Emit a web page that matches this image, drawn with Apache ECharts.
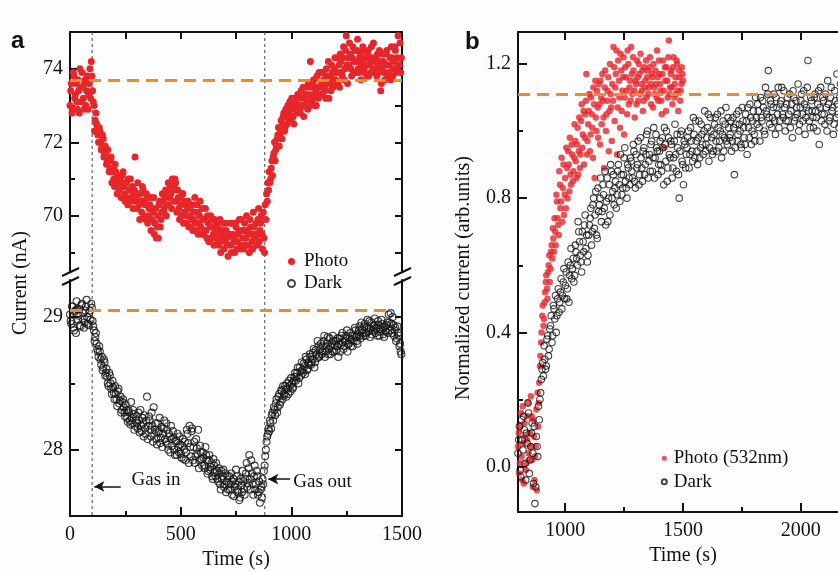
<!DOCTYPE html>
<html><head><meta charset="utf-8">
<script src="https://cdn.jsdelivr.net/npm/echarts@6/dist/echarts.min.js"></script>
<style>html,body{margin:0;padding:0;overflow:hidden;background:#fdfdfe}#c{width:870px;height:571px}</style>
</head><body><div id="c"></div>
<script>
// ---------- DATA ----------
// Panel a: photo current (nA), [time s, value] (two interleaved reads)
const photoA = [
[0,73.0],[6,73.6],[12,72.9],[18,73.8],[24,73.3],[30,73.1],[36,73.7],[42,72.8],[48,73.5],[54,73.9],
[60,73.2],[66,73.6],[72,73.0],[78,73.8],[84,73.3],[90,74.0],[96,74.2],[102,73.4],[108,73.0],[114,72.6],
[120,72.5],[126,72.2],[132,72.4],[138,72.0],[144,71.9],[150,72.1],[156,71.7],[162,71.8],[168,71.5],[174,71.6],
[180,71.3],[186,71.6],[192,71.2],[198,71.0],[204,71.4],[210,70.9],[216,71.1],[222,70.7],[228,71.0],[234,70.8],
[240,71.2],[246,70.6],[252,70.9],[258,70.5],[264,71.0],[270,70.7],[276,70.4],[282,70.8],[288,70.6],[294,71.6],
[300,70.5],[306,70.9],[312,70.3],[318,70.6],[324,70.1],[330,70.7],[336,70.4],[342,69.9],[348,70.5],[354,70.0],
[360,70.3],[366,69.6],[372,70.2],[378,70.5],[384,69.8],[390,69.4],[396,70.0],[402,70.3],[408,69.7],[414,70.1],
[420,70.4],[426,70.2],[432,70.7],[438,70.3],[444,70.9],[450,70.5],[456,70.6],[462,71.0],[468,70.8],[474,71.0],
[480,70.4],[486,70.7],[492,70.2],[498,70.5],[504,70.0],[510,70.6],[516,70.1],[522,70.3],[528,69.8],[534,70.4],
[540,70.0],[546,69.7],[552,70.3],[558,69.9],[564,70.5],[570,69.6],[576,70.1],[582,69.8],[588,70.4],[594,69.5],
[600,69.9],[606,69.6],[612,70.2],[618,69.4],[624,69.8],[630,69.3],[636,70.0],[642,69.7],[648,69.5],[654,69.9],
[660,69.4],[666,69.7],[672,69.2],[678,69.9],[684,69.5],[690,69.6],[696,69.1],[702,69.8],[708,69.4],[714,68.9],
[720,69.5],[726,69.2],[732,69.8],[738,69.4],[744,69.0],[750,69.7],[756,69.3],[762,69.6],[768,69.1],[774,69.9],
[780,69.4],[786,69.6],[792,69.2],[798,70.0],[804,69.5],[810,69.0],[816,69.7],[822,69.3],[828,70.1],[834,69.5],
[840,69.8],[846,69.2],[852,70.2],[858,69.6],[864,70.0],[870,69.1],[876,69.4],[882,70.3],[888,70.6],[894,70.9],
[900,71.2],[906,71.0],[912,71.5],[918,71.6],[924,72.0],[930,71.8],[936,72.1],[942,72.4],[948,72.2],[954,72.6],
[960,72.5],[966,72.8],[972,72.4],[978,72.7],[984,73.0],[990,72.6],[996,72.9],[1002,73.2],[1008,72.7],[1014,73.0],
[1020,73.1],[1026,72.8],[1032,73.3],[1038,72.9],[1044,73.4],[1050,73.0],[1056,72.7],[1062,73.2],[1068,73.5],[1074,72.9],
[1080,73.3],[1086,74.2],[1092,73.1],[1098,73.6],[1104,73.0],[1110,73.4],[1116,73.8],[1122,73.2],[1128,73.5],[1134,73.9],
[1140,73.3],[1146,73.7],[1152,73.4],[1158,74.0],[1164,73.6],[1170,73.2],[1176,73.8],[1182,74.1],[1188,73.5],[1194,74.0],
[1200,73.7],[1206,74.3],[1212,73.9],[1218,73.5],[1224,74.2],[1230,73.8],[1236,74.6],[1242,74.0],[1248,74.9],[1254,73.6],
[1260,74.1],[1266,74.4],[1272,73.8],[1278,74.6],[1284,74.2],[1290,73.9],[1296,74.5],[1302,74.0],[1308,74.3],[1314,73.7],
[1320,74.2],[1326,74.5],[1332,73.9],[1338,74.1],[1344,74.4],[1350,73.8],[1356,74.2],[1362,74.6],[1368,74.0],[1374,73.9],
[1380,74.3],[1386,73.8],[1392,74.1],[1398,74.5],[1404,73.4],[1410,74.0],[1416,74.2],[1422,73.7],[1428,74.4],[1434,74.1],
[1440,73.9],[1446,74.3],[1452,74.6],[1458,73.8],[1464,74.2],[1470,74.5],[1476,74.0],[1482,74.9],[1488,74.1],[1494,73.9]
];
const photoA2 = [
[3,73.4],[9,72.8],[15,73.9],[21,73.2],[27,73.6],[33,72.9],[39,73.4],[45,74.0],[51,73.1],[57,73.5],
[63,72.9],[69,73.7],[75,73.4],[81,72.9],[87,73.6],[93,73.2],[99,73.8],[105,73.1],[111,72.3],[117,72.8],
[123,72.4],[129,72.0],[135,72.3],[141,71.8],[147,72.2],[153,71.6],[159,71.9],[165,71.4],[171,71.8],[177,71.2],
[183,71.5],[189,70.9],[195,71.3],[201,70.8],[207,71.2],[213,70.6],[219,71.0],[225,70.9],[231,70.5],[237,71.1],
[243,70.8],[249,70.4],[255,70.9],[261,70.3],[267,70.7],[273,71.0],[279,70.5],[285,70.2],[291,70.7],[297,70.4],
[303,70.2],[309,70.6],[315,69.9],[321,70.4],[327,70.8],[333,70.0],[339,70.3],[345,70.6],[351,69.8],[357,70.2],
[363,70.5],[369,69.9],[375,70.1],[381,69.5],[387,70.2],[393,69.7],[399,69.4],[405,70.4],[411,69.9],[417,70.6],
[423,70.1],[429,70.5],[435,70.0],[441,70.6],[447,70.3],[453,70.8],[459,70.2],[465,70.7],[471,70.4],[477,70.9],
[483,70.1],[489,70.5],[495,69.9],[501,70.3],[507,70.6],[513,69.8],[519,70.4],[525,70.0],[531,70.2],[537,69.7],
[543,70.2],[549,69.9],[555,69.6],[561,70.1],[567,69.8],[573,70.3],[579,69.5],[585,70.0],[591,69.7],[597,70.2],
[603,69.5],[609,69.9],[615,69.6],[621,70.0],[627,69.3],[633,69.7],[639,69.4],[645,69.9],[651,69.2],[657,69.6],
[663,69.8],[669,69.3],[675,69.6],[681,69.0],[687,69.4],[693,69.8],[699,69.3],[705,69.6],[711,69.2],[717,69.5],
[723,69.8],[729,69.0],[735,69.5],[741,69.3],[747,69.8],[753,69.1],[759,69.5],[765,69.9],[771,69.2],[777,69.6],
[783,69.1],[789,69.8],[795,69.4],[801,69.6],[807,69.2],[813,69.9],[819,69.5],[825,69.1],[831,69.7],[837,69.4],
[843,69.5],[849,69.9],[855,69.3],[861,69.8],[867,69.5],[873,70.1],[879,69.0],[885,69.9],[891,70.4],[897,70.7],
[903,70.9],[909,71.3],[915,71.1],[921,71.7],[927,71.5],[933,71.9],[939,72.2],[945,71.9],[951,72.3],[957,72.1],
[963,72.7],[969,72.3],[975,72.9],[981,72.5],[987,72.8],[993,73.1],[999,72.6],[1005,72.9],[1011,72.5],[1017,73.2],
[1023,72.9],[1029,73.3],[1035,73.0],[1041,72.8],[1047,73.2],[1053,73.5],[1059,73.0],[1065,73.3],[1071,73.1],[1077,73.6],
[1083,73.0],[1089,73.5],[1095,73.2],[1101,73.7],[1107,73.3],[1113,73.0],[1119,73.5],[1125,73.9],[1131,73.3],[1137,73.6],
[1143,73.9],[1149,73.5],[1155,73.2],[1161,73.8],[1167,74.2],[1173,73.6],[1179,73.4],[1185,73.9],[1191,73.7],[1197,74.3],
[1203,73.9],[1209,73.6],[1215,74.1],[1221,74.4],[1227,73.9],[1233,74.3],[1239,73.7],[1245,74.5],[1251,74.1],[1257,74.3],
[1263,74.7],[1269,74.0],[1275,74.3],[1281,73.9],[1287,74.5],[1293,74.2],[1299,74.8],[1305,73.9],[1311,74.4],[1317,74.1],
[1323,74.6],[1329,74.0],[1335,74.3],[1341,73.8],[1347,74.5],[1353,74.1],[1359,73.9],[1365,74.3],[1371,74.7],[1377,74.2],
[1383,74.0],[1389,74.4],[1395,73.9],[1401,74.2],[1407,73.6],[1413,74.4],[1419,73.9],[1425,74.1],[1431,74.5],[1437,73.8],
[1443,74.1],[1449,73.7],[1455,74.3],[1461,74.0],[1467,74.6],[1473,73.9],[1479,74.3],[1485,74.1],[1491,74.7],[1497,74.3]
];
// Panel a: dark current (nA)
const darkA = [
[0,29.02],[6,28.95],[12,29.08],[18,28.90],[24,29.05],[30,29.12],[36,28.98],[42,29.06],[48,28.93],[54,29.10],
[60,29.03],[66,28.96],[72,29.08],[78,29.00],[84,28.94],[90,29.05],[96,29.10],[102,28.97],[108,28.90],[114,28.85],
[120,28.80],[126,28.74],[132,28.78],[138,28.68],[144,28.70],[150,28.62],[156,28.66],[162,28.58],[168,28.55],[174,28.48],
[180,28.56],[186,28.46],[192,28.52],[198,28.43],[204,28.48],[210,28.38],[216,28.44],[222,28.35],[228,28.40],[234,28.30],
[240,28.38],[246,28.28],[252,28.34],[258,28.24],[264,28.30],[270,28.22],[276,28.36],[282,28.20],[288,28.27],[294,28.18],
[300,28.25],[306,28.16],[312,28.22],[318,28.30],[324,28.14],[330,28.20],[336,28.26],[342,28.12],[348,28.40],[354,28.18],
[360,28.22],[366,28.10],[372,28.18],[378,28.32],[384,28.15],[390,28.08],[396,28.20],[402,28.14],[408,28.05],[414,28.17],
[420,28.12],[426,28.22],[432,28.06],[438,28.15],[444,28.00],[450,28.10],[456,28.18],[462,28.03],[468,28.09],[474,27.96],
[480,28.07],[486,28.12],[492,27.98],[498,28.04],[504,27.94],[510,28.08],[516,28.00],[522,27.92],[528,28.15],[534,28.05],
[540,28.18],[546,27.95],[552,28.16],[558,28.02],[564,27.90],[570,28.08],[576,27.97],[582,27.86],[588,28.03],[594,27.93],
[600,27.98],[606,27.88],[612,28.02],[618,27.92],[624,27.84],[630,27.96],[636,27.87],[642,27.80],[648,27.93],[654,27.83],
[660,27.90],[666,27.78],[672,27.86],[678,27.74],[684,27.84],[690,27.80],[696,27.72],[702,27.82],[708,27.76],[714,27.70],
[720,27.80],[726,27.74],[732,27.66],[738,27.78],[744,27.72],[750,27.85],[756,27.68],[762,27.76],[768,27.64],[774,27.73],
[780,27.84],[786,27.70],[792,27.78],[798,27.90],[804,27.75],[810,27.96],[816,27.70],[822,27.82],[828,27.66],[834,27.88],
[840,27.74],[846,27.80],[852,27.68],[858,27.60],[864,27.72],[870,27.78],[876,27.84],[882,27.95],[888,28.06],[894,28.12],
[900,28.14],[906,28.20],[912,28.26],[918,28.22],[924,28.30],[930,28.35],[936,28.28],[942,28.40],[948,28.34],[954,28.45],
[960,28.38],[966,28.42],[972,28.48],[978,28.40],[984,28.46],[990,28.52],[996,28.44],[1002,28.50],[1008,28.47],[1014,28.55],
[1020,28.52],[1026,28.58],[1032,28.50],[1038,28.62],[1044,28.56],[1050,28.60],[1056,28.65],[1062,28.57],[1068,28.68],[1074,28.61],
[1080,28.64],[1086,28.70],[1092,28.66],[1098,28.73],[1104,28.62],[1110,28.75],[1116,28.69],[1122,28.78],[1128,28.71],[1134,28.80],
[1140,28.74],[1146,28.82],[1152,28.70],[1158,28.78],[1164,28.85],[1170,28.76],[1176,28.72],[1182,28.80],[1188,28.86],[1194,28.74],
[1200,28.82],[1206,28.78],[1212,28.70],[1218,28.84],[1224,28.79],[1230,28.88],[1236,28.76],[1242,28.82],[1248,28.86],[1254,28.74],
[1260,28.80],[1266,28.88],[1272,28.83],[1278,28.78],[1284,28.86],[1290,28.90],[1296,28.82],[1302,28.87],[1308,28.93],[1314,28.84],
[1320,28.90],[1326,28.86],[1332,28.95],[1338,28.88],[1344,28.98],[1350,28.92],[1356,28.85],[1362,28.96],[1368,28.90],[1374,28.94],
[1380,28.88],[1386,28.92],[1392,28.97],[1398,28.86],[1404,28.91],[1410,28.95],[1416,28.87],[1422,28.93],[1428,28.89],[1434,28.96],
[1440,29.02],[1446,28.90],[1452,28.95],[1458,29.00],[1464,28.86],[1470,28.92],[1476,28.84],[1482,28.88],[1488,28.78],[1494,28.74]
];
const darkA2 = [
[3,28.97],[9,29.08],[15,28.92],[21,29.04],[27,28.88],[33,29.06],[39,29.01],[45,28.94],[51,29.09],[57,28.99],
[63,28.92],[69,29.05],[75,29.13],[81,28.95],[87,29.03],[93,28.98],[99,29.07],[105,28.93],[111,28.82],[117,28.88],
[123,28.76],[129,28.70],[135,28.74],[141,28.64],[147,28.60],[153,28.68],[159,28.56],[165,28.61],[171,28.50],[177,28.58],
[183,28.50],[189,28.42],[195,28.47],[201,28.38],[207,28.42],[213,28.33],[219,28.46],[225,28.37],[231,28.28],[237,28.36],
[243,28.32],[249,28.25],[255,28.30],[261,28.21],[267,28.28],[273,28.19],[279,28.24],[285,28.30],[291,28.15],[297,28.22],
[303,28.20],[309,28.28],[315,28.13],[321,28.18],[327,28.24],[333,28.10],[339,28.16],[345,28.22],[351,28.08],[357,28.25],
[363,28.15],[369,28.28],[375,28.06],[381,28.12],[387,28.20],[393,28.04],[399,28.13],[405,28.24],[411,28.09],[417,28.02],
[423,28.16],[429,28.08],[435,28.20],[441,28.04],[447,28.12],[453,27.98],[459,28.08],[465,28.14],[471,28.00],[477,28.06],
[483,27.96],[489,28.02],[495,28.10],[501,27.97],[507,28.03],[513,27.93],[519,28.06],[525,27.98],[531,28.12],[537,27.90],
[543,28.02],[549,28.14],[555,27.92],[561,28.06],[567,27.95],[573,28.01],[579,28.15],[585,27.92],[591,27.98],[597,27.88],
[603,27.94],[609,27.86],[615,27.96],[621,27.82],[627,27.92],[633,27.85],[639,27.90],[645,27.78],[651,27.88],[657,27.80],
[663,27.84],[669,27.76],[675,27.82],[681,27.70],[687,27.78],[693,27.85],[699,27.74],[705,27.68],[711,27.80],[717,27.74],
[723,27.70],[729,27.82],[735,27.76],[741,27.65],[747,27.74],[753,27.80],[759,27.70],[765,27.62],[771,27.78],[777,27.68],
[783,27.76],[789,27.66],[795,27.82],[801,27.72],[807,27.86],[813,27.78],[819,27.92],[825,27.74],[831,27.80],[837,27.70],
[843,27.84],[849,27.66],[855,27.76],[861,27.70],[867,27.64],[873,27.74],[879,27.88],[885,28.00],[891,28.10],[897,28.16],
[903,28.22],[909,28.16],[915,28.28],[921,28.32],[927,28.26],[933,28.38],[939,28.32],[945,28.42],[951,28.36],[957,28.44],
[963,28.48],[969,28.41],[975,28.46],[981,28.50],[987,28.42],[993,28.48],[999,28.54],[1005,28.46],[1011,28.52],[1017,28.58],
[1023,28.55],[1029,28.62],[1035,28.54],[1041,28.59],[1047,28.66],[1053,28.58],[1059,28.63],[1065,28.70],[1071,28.60],[1077,28.66],
[1083,28.72],[1089,28.64],[1095,28.68],[1101,28.76],[1107,28.66],[1113,28.72],[1119,28.82],[1125,28.70],[1131,28.76],[1137,28.72],
[1143,28.78],[1149,28.86],[1155,28.74],[1161,28.80],[1167,28.72],[1173,28.84],[1179,28.78],[1185,28.74],[1191,28.82],[1197,28.79],
[1203,28.75],[1209,28.84],[1215,28.80],[1221,28.74],[1227,28.86],[1233,28.81],[1239,28.78],[1245,28.84],[1251,28.90],[1257,28.80],
[1263,28.84],[1269,28.78],[1275,28.86],[1281,28.82],[1287,28.92],[1293,28.85],[1299,28.80],[1305,28.90],[1311,28.86],[1317,28.96],
[1323,28.88],[1329,28.93],[1335,28.86],[1341,28.92],[1347,28.89],[1353,28.97],[1359,28.91],[1365,28.87],[1371,28.93],[1377,28.99],
[1383,28.91],[1389,28.86],[1395,28.94],[1401,28.89],[1407,28.98],[1413,28.92],[1419,28.85],[1425,28.90],[1431,28.94],[1437,28.88],
[1443,28.96],[1449,29.03],[1455,28.88],[1461,28.94],[1467,28.90],[1473,28.82],[1479,28.93],[1485,28.86],[1491,28.80],[1497,28.72]
];
// Panel b: normalized photo current (532 nm)
const photoB = [
[800,0.06],[805,-0.02],[810,0.12],[815,0.03],[820,0.18],[825,-0.05],[830,0.09],[835,0.01],[840,0.15],[845,0.04],
[850,0.10],[855,0.21],[860,0.02],[865,0.14],[870,-0.04],[875,0.06],[880,-0.07],[885,0.12],[890,0.25],[895,0.33],
[900,0.40],[905,0.48],[910,0.44],[915,0.52],[920,0.57],[925,0.50],[930,0.60],[935,0.55],[940,0.64],[945,0.62],
[950,0.68],[955,0.74],[960,0.66],[965,0.79],[970,0.72],[975,0.88],[980,0.77],[985,0.92],[990,0.83],[995,0.75],
[1000,0.86],[1005,0.95],[1010,0.80],[1015,0.90],[1020,0.98],[1025,0.84],[1030,0.93],[1035,0.88],[1040,1.02],[1045,0.91],
[1050,0.96],[1055,0.87],[1060,1.04],[1065,0.93],[1070,1.08],[1075,0.99],[1080,0.90],[1085,1.05],[1090,1.17],[1095,0.97],
[1100,1.06],[1105,0.94],[1110,1.10],[1115,1.01],[1120,1.13],[1125,0.86],[1130,1.04],[1135,1.12],[1140,0.98],[1145,1.08],
[1150,1.15],[1155,1.02],[1160,1.09],[1165,0.89],[1170,1.18],[1175,1.05],[1180,1.12],[1185,0.94],[1190,1.20],[1195,1.07],
[1200,1.14],[1205,1.25],[1210,1.03],[1215,1.17],[1220,0.93],[1225,1.21],[1230,1.10],[1235,1.23],[1240,1.06],[1245,1.16],
[1250,0.99],[1255,1.19],[1260,1.12],[1265,1.24],[1270,1.08],[1275,1.15],[1280,1.25],[1285,1.11],[1290,1.18],[1295,1.04],
[1300,1.14],[1305,1.21],[1310,1.09],[1315,1.17],[1320,1.23],[1325,1.12],[1330,1.06],[1335,1.19],[1340,1.15],[1345,1.10],
[1350,1.18],[1355,1.13],[1360,1.22],[1365,1.08],[1370,1.16],[1375,1.20],[1380,1.11],[1385,1.14],[1390,1.24],[1395,1.09],
[1400,1.17],[1405,1.12],[1410,1.05],[1415,1.21],[1420,0.95],[1425,1.15],[1430,1.19],[1435,1.10],[1440,1.27],[1445,1.13],
[1450,1.18],[1455,1.08],[1460,1.22],[1465,1.14],[1470,1.11],[1475,1.20],[1480,1.06],[1485,1.16],[1490,1.12],[1495,1.19],[1500,1.15]
];
const photoB2 = [
[803,0.10],[808,0.01],[813,0.16],[818,-0.04],[823,0.07],[828,0.13],[833,-0.01],[838,0.08],[843,0.19],[848,0.02],
[853,0.06],[858,0.15],[863,-0.06],[868,0.09],[873,0.03],[878,0.17],[883,0.22],[888,0.19],[893,0.30],[898,0.37],
[903,0.45],[908,0.42],[913,0.49],[918,0.55],[923,0.53],[928,0.58],[933,0.63],[938,0.59],[943,0.66],[948,0.71],
[953,0.64],[958,0.70],[963,0.81],[968,0.74],[973,0.69],[978,0.84],[983,0.79],[988,0.73],[993,0.90],[998,0.81],
[1003,0.77],[1008,0.89],[1013,0.94],[1018,0.82],[1023,0.87],[1028,0.96],[1033,0.85],[1038,0.92],[1043,0.97],[1048,0.86],
[1053,1.01],[1058,0.94],[1063,0.89],[1068,1.03],[1073,0.95],[1078,1.06],[1083,0.98],[1088,1.09],[1093,0.93],[1098,1.02],
[1103,1.11],[1108,0.99],[1113,1.05],[1118,0.92],[1123,1.08],[1128,1.15],[1133,1.00],[1138,1.07],[1143,1.14],[1148,0.96],
[1153,1.10],[1158,1.17],[1163,1.04],[1168,1.13],[1173,1.00],[1178,1.09],[1183,1.16],[1188,1.06],[1193,1.11],[1198,0.97],
[1203,1.09],[1208,1.19],[1213,1.13],[1218,1.24],[1223,1.07],[1228,1.15],[1233,1.01],[1238,1.18],[1243,1.12],[1248,1.22],
[1253,1.10],[1258,1.16],[1263,1.05],[1268,1.20],[1273,1.13],[1278,1.09],[1283,1.17],[1288,1.22],[1293,1.12],[1298,1.15],
[1303,1.08],[1308,1.16],[1313,1.20],[1318,1.11],[1323,1.14],[1328,1.18],[1333,1.09],[1338,1.13],[1343,1.21],[1348,1.16],
[1353,1.11],[1358,1.19],[1363,1.14],[1368,1.17],[1373,1.07],[1378,1.13],[1383,1.18],[1388,1.10],[1393,1.16],[1398,1.21],
[1403,1.14],[1408,1.09],[1413,1.17],[1418,1.12],[1423,1.19],[1428,1.06],[1433,1.15],[1438,1.22],[1443,1.11],[1448,1.17],
[1453,1.13],[1458,1.19],[1463,1.10],[1468,1.16],[1473,1.21],[1478,1.12],[1483,1.18],[1488,1.09],[1493,1.14],[1498,1.17]
];
// Panel b: normalized dark current
const darkB = [
[800,0.04],[806,0.12],[812,-0.03],[818,0.08],[824,0.15],[830,0.01],[836,0.10],[842,0.19],[848,-0.02],[854,0.06],
[860,0.13],[866,-0.05],[872,-0.11],[878,0.09],[884,0.03],[890,0.14],[896,0.22],[902,0.29],[908,0.27],[914,0.32],
[920,0.30],[926,0.39],[932,0.35],[938,0.42],[944,0.37],[950,0.48],[956,0.44],[962,0.40],[968,0.50],[974,0.46],
[980,0.52],[986,0.47],[992,0.55],[998,0.50],[1004,0.58],[1010,0.53],[1016,0.49],[1022,0.60],[1028,0.56],[1034,0.62],
[1040,0.57],[1046,0.64],[1052,0.60],[1058,0.70],[1064,0.63],[1070,0.58],[1076,0.67],[1082,0.72],[1088,0.65],[1094,0.61],
[1100,0.69],[1106,0.74],[1112,0.66],[1118,0.78],[1124,0.71],[1130,0.82],[1136,0.68],[1142,0.76],[1148,0.80],[1154,0.73],
[1160,0.84],[1166,0.77],[1172,0.72],[1178,0.86],[1184,0.80],[1190,0.75],[1196,0.88],[1202,0.82],[1208,0.78],[1214,0.85],
[1220,0.81],[1226,0.90],[1232,0.79],[1238,0.87],[1244,0.83],[1250,0.92],[1256,0.85],[1262,0.80],[1268,0.89],[1274,0.84],
[1280,0.91],[1286,0.86],[1292,0.94],[1298,0.83],[1304,0.89],[1310,0.97],[1316,0.87],[1322,0.92],[1328,0.85],[1334,0.95],
[1340,0.90],[1346,0.99],[1352,0.86],[1358,0.93],[1364,0.96],[1370,0.88],[1376,1.01],[1382,0.92],[1388,0.95],[1394,0.87],
[1400,0.94],[1406,0.90],[1412,0.98],[1418,0.84],[1424,0.96],[1430,1.00],[1436,0.89],[1442,0.93],[1448,0.97],[1454,0.86],
[1460,0.92],[1466,1.02],[1472,0.88],[1478,0.95],[1484,0.80],[1490,0.99],[1496,0.91],[1502,0.84],[1508,0.96],[1514,0.93],
[1520,0.98],[1526,0.89],[1532,1.01],[1538,0.94],[1544,1.04],[1550,0.92],[1556,0.97],[1562,0.90],[1568,1.03],[1574,0.95],
[1580,0.99],[1586,0.93],[1592,1.06],[1598,0.96],[1604,1.01],[1610,0.91],[1616,1.04],[1622,0.98],[1628,0.94],[1634,1.02],
[1640,0.97],[1646,1.05],[1652,0.95],[1658,1.00],[1664,0.92],[1670,1.03],[1676,0.98],[1682,1.07],[1688,0.96],[1694,1.01],
[1700,0.99],[1706,0.94],[1712,1.04],[1718,0.87],[1724,1.02],[1730,0.97],[1736,1.06],[1742,1.00],[1748,0.95],[1754,1.03],
[1760,0.98],[1766,1.05],[1772,0.93],[1778,1.01],[1784,1.08],[1790,0.96],[1796,1.03],[1802,0.99],[1808,1.10],[1814,1.02],
[1820,1.06],[1826,0.97],[1832,1.04],[1838,1.09],[1844,1.00],[1850,1.13],[1856,1.05],[1862,1.18],[1868,1.02],[1874,1.08],
[1880,1.04],[1886,1.11],[1892,0.99],[1898,1.07],[1904,1.13],[1910,1.03],[1916,1.09],[1922,1.05],[1928,1.12],[1934,1.00],
[1940,1.08],[1946,1.03],[1952,1.11],[1958,1.06],[1964,0.98],[1970,1.10],[1976,1.04],[1982,1.07],[1988,1.14],[1994,1.02],
[2000,1.09],[2006,1.05],[2012,1.12],[2018,0.99],[2024,1.07],[2030,1.21],[2036,1.03],[2042,1.10],[2048,1.06],[2054,1.01],
[2060,1.11],[2066,1.04],[2072,1.08],[2078,0.96],[2084,1.13],[2090,1.05],[2096,1.09],[2102,1.02],[2108,1.07],[2114,1.15],
[2120,1.03],[2126,1.10],[2132,1.06],[2138,0.99],[2144,1.12],[2150,1.04],[2156,1.08],[2162,1.01],[2168,1.14],[2174,1.05],
[2180,1.09],[2186,1.02],[2192,1.11]
];
const darkB2 = [
[803,0.08],[809,-0.01],[815,0.14],[821,0.05],[827,0.11],[833,-0.04],[839,0.07],[845,0.16],[851,0.02],[857,0.10],
[863,0.04],[869,0.12],[875,-0.06],[881,0.06],[887,0.18],[893,0.20],[899,0.26],[905,0.31],[911,0.36],[917,0.29],
[923,0.38],[929,0.33],[935,0.41],[941,0.45],[947,0.39],[953,0.47],[959,0.51],[965,0.45],[971,0.53],[977,0.49],
[983,0.56],[989,0.51],[995,0.59],[1001,0.54],[1007,0.50],[1013,0.61],[1019,0.57],[1025,0.65],[1031,0.59],[1037,0.55],
[1043,0.66],[1049,0.62],[1055,0.73],[1061,0.67],[1067,0.61],[1073,0.70],[1079,0.64],[1085,0.75],[1091,0.69],[1097,0.63],
[1103,0.72],[1109,0.77],[1115,0.70],[1121,0.80],[1127,0.75],[1133,0.69],[1139,0.83],[1145,0.78],[1151,0.86],[1157,0.76],
[1163,0.81],[1169,0.88],[1175,0.79],[1181,0.73],[1187,0.84],[1193,0.90],[1199,0.80],[1205,0.87],[1211,0.83],[1217,0.77],
[1223,0.88],[1229,0.84],[1235,0.93],[1241,0.81],[1247,0.87],[1253,0.95],[1259,0.83],[1265,0.90],[1271,0.86],[1277,0.92],
[1283,0.88],[1289,0.96],[1295,0.85],[1301,0.93],[1307,0.90],[1313,0.84],[1319,0.98],[1325,0.89],[1331,0.94],[1337,0.87],
[1343,0.93],[1349,1.00],[1355,0.91],[1361,0.88],[1367,0.97],[1373,0.92],[1379,0.86],[1385,0.99],[1391,0.94],[1397,0.90],
[1403,0.97],[1409,0.88],[1415,0.95],[1421,1.01],[1427,0.91],[1433,0.85],[1439,0.98],[1445,0.92],[1451,0.96],[1457,0.89],
[1463,0.97],[1469,0.93],[1475,0.99],[1481,0.87],[1487,0.94],[1493,1.00],[1499,0.90],[1505,0.97],[1511,0.89],[1517,0.95],
[1523,1.00],[1529,0.93],[1535,0.97],[1541,0.91],[1547,0.99],[1553,1.03],[1559,0.94],[1565,0.98],[1571,0.92],[1577,1.02],
[1583,0.96],[1589,1.00],[1595,0.94],[1601,0.98],[1607,1.05],[1613,0.95],[1619,1.00],[1625,0.93],[1631,0.99],[1637,1.04],
[1643,0.94],[1649,1.01],[1655,0.97],[1661,1.06],[1667,0.99],[1673,0.94],[1679,1.02],[1685,0.97],[1691,1.04],[1697,0.98],
[1703,1.03],[1709,0.97],[1715,1.01],[1721,0.95],[1727,1.05],[1733,0.99],[1739,1.02],[1745,0.96],[1751,1.07],[1757,1.01],
[1763,0.96],[1769,1.03],[1775,1.07],[1781,0.98],[1787,1.04],[1793,1.00],[1799,1.06],[1805,0.97],[1811,1.04],[1817,1.08],
[1823,1.01],[1829,1.10],[1835,1.03],[1841,1.07],[1847,0.99],[1853,1.06],[1859,1.11],[1865,1.04],[1871,1.09],[1877,1.01],
[1883,1.07],[1889,1.03],[1895,1.10],[1901,1.05],[1907,1.01],[1913,1.08],[1919,1.13],[1925,1.04],[1931,1.07],[1937,1.03],
[1943,1.10],[1949,1.05],[1955,1.01],[1961,1.08],[1967,1.12],[1973,1.03],[1979,1.09],[1985,1.05],[1991,1.00],[1997,1.07],
[2003,1.11],[2009,1.03],[2015,1.08],[2021,1.04],[2027,1.13],[2033,1.06],[2039,1.01],[2045,1.09],[2051,1.04],[2057,1.10],
[2063,1.06],[2069,1.00],[2075,1.12],[2081,1.07],[2087,1.03],[2093,1.10],[2099,1.05],[2105,1.11],[2111,1.00],[2117,1.08],
[2123,1.04],[2129,1.13],[2135,1.07],[2141,1.02],[2147,1.09],[2153,1.17],[2159,1.05],[2165,1.10],[2171,1.03],[2177,1.08],
[2183,1.12],[2189,1.06],[2195,1.10]
];
const baselinePhotoA = 73.7;
const baselineDarkA = 29.05;
const baselineDarkAEnd = 1460;
const baselineB = 1.112;
const gasInTime = 100;
const gasOutTime = 880;
const gasInArrow = [[110, 27.723], [229, 27.723]];
const gasOutArrow = [[896, 27.778], [994, 27.778]];
const gasInText = [278, 27.772];
const gasOutText = [1009, 27.76];

const xRangeA = [0, 1500];
const yRangeTopA = [68.5, 75];
const yRangeBotA = [27.5, 29.28];
const xRangeB = [800, 2200];
const yRangeB = [-0.135, 1.295];
const xLabelsA = [0, 500, 1000, 1500];
const xMinorA = [250, 750, 1250];
const yLabelsTopA = [70, 72, 74];
const yMinorTopA = [69, 71, 73];
const yLabelsBotA = [28, 29];
const yMinorBotA = [28.5];
const xLabelsB = [1000, 1500, 2000];
const xMinorB = [1250, 1750];
const yLabelsB = [0, 0.4, 0.8, 1.2];
const yMinorB = [0.2, 0.6, 1.0];

// ---------- STYLE ----------
const FONT = 'Liberation Serif';
const RED = '#e8262a';
const ORANGE = '#f08a2c';
const INK = '#111';

function ax(extra) {
  const base = {
    type: 'value', splitLine: {show: false},
    axisLine: {show: true, onZero: false, lineStyle: {color: INK, width: 2}},
    axisTick: {show: true, inside: true, length: 9, lineStyle: {color: INK, width: 2}},
    axisLabel: {show: false, color: INK, fontFamily: FONT, fontSize: 20, formatter: v => String(v)}
  };
  const o = Object.assign({}, base, extra);
  ['axisLine', 'axisTick', 'axisLabel'].forEach(k => { if (extra[k]) o[k] = Object.assign({}, base[k], extra[k]); });
  return o;
}
function minor(extra) {
  return ax(Object.assign({axisLine: {show: false}, axisTick: {customValues: extra.vals, length: 5}}, extra));
}
const nameStyle = {color: INK, fontFamily: FONT, fontSize: 20};
const hollow = {color: 'rgba(255,255,255,0)', borderColor: '#151515', borderWidth: 1.1};

const chart = echarts.init(document.getElementById('c'));
const option = {
  backgroundColor: '#fdfdfe',
  animation: false,
  textStyle: {fontFamily: FONT},
  grid: [
    {left: 70, top: 32, width: 332, height: 239},
    {left: 70, top: 280, width: 332, height: 239},
    {left: 518, top: 32, width: 330, height: 487}
  ],
  xAxis: [
    ax({gridIndex: 0, position: 'top', min: xRangeA[0], max: xRangeA[1], axisTick: {customValues: xMinorA.concat([500, 1000]), length: 7}}),
    ax({gridIndex: 1, position: 'bottom', min: xRangeA[0], max: xRangeA[1],
        axisTick: {customValues: xLabelsA},
        axisLabel: {show: true, customValues: xLabelsA, margin: 9},
        name: 'Time (s)', nameLocation: 'middle', nameGap: 34, nameTextStyle: nameStyle}),
    minor({gridIndex: 1, position: 'bottom', min: xRangeA[0], max: xRangeA[1], vals: xMinorA}),
    ax({gridIndex: 2, position: 'bottom', min: xRangeB[0], max: xRangeB[1],
        axisTick: {customValues: xLabelsB},
        axisLabel: {show: true, customValues: xLabelsB, margin: 9},
        name: 'Time (s)', nameLocation: 'middle', nameGap: 34, nameTextStyle: nameStyle}),
    minor({gridIndex: 2, position: 'bottom', min: xRangeB[0], max: xRangeB[1], vals: xMinorB}),
    ax({gridIndex: 2, position: 'top', min: xRangeB[0], max: xRangeB[1], axisTick: {customValues: xLabelsB.concat(xMinorB), length: 8}})
  ],
  yAxis: [
    ax({gridIndex: 0, position: 'left', min: yRangeTopA[0], max: yRangeTopA[1],
        axisTick: {customValues: yLabelsTopA}, axisLabel: {show: true, customValues: yLabelsTopA, margin: 7}}),
    minor({gridIndex: 0, position: 'left', min: yRangeTopA[0], max: yRangeTopA[1], vals: yMinorTopA}),
    ax({gridIndex: 0, position: 'right', min: yRangeTopA[0], max: yRangeTopA[1],
        axisTick: {customValues: yLabelsTopA.concat(yMinorTopA), length: 7}}),
    ax({gridIndex: 1, position: 'left', min: yRangeBotA[0], max: yRangeBotA[1],
        axisTick: {customValues: yLabelsBotA}, axisLabel: {show: true, customValues: yLabelsBotA, margin: 7}}),
    minor({gridIndex: 1, position: 'left', min: yRangeBotA[0], max: yRangeBotA[1], vals: yMinorBotA}),
    ax({gridIndex: 1, position: 'right', min: yRangeBotA[0], max: yRangeBotA[1],
        axisTick: {customValues: yLabelsBotA.concat(yMinorBotA), length: 7}}),
    ax({gridIndex: 2, position: 'left', min: yRangeB[0], max: yRangeB[1],
        axisTick: {customValues: yLabelsB},
        axisLabel: {show: true, customValues: yLabelsB, margin: 7, formatter: v => v.toFixed(1)}}),
    minor({gridIndex: 2, position: 'left', min: yRangeB[0], max: yRangeB[1], vals: yMinorB}),
    ax({gridIndex: 2, position: 'right', min: yRangeB[0], max: yRangeB[1],
        axisTick: {customValues: yLabelsB.concat(yMinorB), length: 7}})
  ],
  legend: [
    {data: ['Photo', 'Dark'], orient: 'vertical', left: 282, top: 245.5, itemWidth: 7, itemHeight: 7, itemGap: 0,
     selectedMode: false, textStyle: {color: INK, fontFamily: FONT, fontSize: 19, lineHeight: 22, padding: [0, 0, 0, 4]}},
    {data: ['Photo (532nm)', 'Dark'], orient: 'vertical', left: 655.8, top: 441.6, itemWidth: 5, itemHeight: 5, itemGap: 0,
     selectedMode: false, textStyle: {color: INK, fontFamily: FONT, fontSize: 19, lineHeight: 23.4, padding: [0, 0, 0, 2]}}
  ],
  series: [
    {name: 'Photo', type: 'scatter', xAxisIndex: 0, yAxisIndex: 0, data: photoA.concat(photoA2), symbolSize: 7,
     itemStyle: {color: RED, opacity: 1},
     markLine: {silent: true, symbol: 'none', label: {show: false}, z: 5,
       lineStyle: {color: ORANGE, width: 3, type: [12, 7]}, data: [{yAxis: baselinePhotoA}]}},
    {name: 'Dark', type: 'scatter', xAxisIndex: 1, yAxisIndex: 3, data: darkA.concat(darkA2), symbolSize: 7,
     itemStyle: hollow,
     markLine: {silent: true, symbol: 'none', label: {show: false},
       lineStyle: {color: ORANGE, width: 3, type: [12, 7]},
       data: [[{coord: [xRangeA[0], baselineDarkA]}, {coord: [baselineDarkAEnd, baselineDarkA]}]]}},
    {name: 'annot', type: 'scatter', xAxisIndex: 1, yAxisIndex: 3, data: [], silent: true,
     markLine: {silent: true, symbol: ['arrow', 'none'], symbolSize: [8, 10], label: {show: false},
       lineStyle: {color: INK, width: 1.5, type: 'solid'},
       data: [[{coord: gasInArrow[0]}, {coord: gasInArrow[1]}], [{coord: gasOutArrow[0]}, {coord: gasOutArrow[1]}]]},
     markPoint: {symbol: 'circle', symbolSize: 0,
       label: {show: true, position: 'right', distance: 0, color: INK, fontFamily: FONT, fontSize: 19, formatter: p => p.name},
       data: [{name: 'Gas in', coord: gasInText}, {name: 'Gas out', coord: gasOutText}]}},
    {name: 'Photo (532nm)', type: 'scatter', xAxisIndex: 3, yAxisIndex: 6, data: photoB.concat(photoB2), symbolSize: 6.5,
     itemStyle: {color: RED},
     markLine: {silent: true, symbol: 'none', label: {show: false}, z: 5,
       lineStyle: {color: ORANGE, width: 3, type: [12, 7]}, data: [{yAxis: baselineB}]}},
    {name: 'Dark', type: 'scatter', xAxisIndex: 3, yAxisIndex: 6, data: darkB.concat(darkB2), symbolSize: 6.5,
     itemStyle: hollow}
  ]
};
chart.setOption(option);

// ---------- OVERLAY (positions derived from the axes) ----------
const px = (axis, v) => chart.convertToPixel(axis, v);
const xIn = px({xAxisIndex: 0}, gasInTime);
const xOut = px({xAxisIndex: 0}, gasOutTime);
const yTopA = px({yAxisIndex: 0}, yRangeTopA[1]);
const yBreak1 = px({yAxisIndex: 0}, yRangeTopA[0]);
const yBreak2 = px({yAxisIndex: 3}, yRangeBotA[1]);
const yBotA = px({yAxisIndex: 3}, yRangeBotA[0]);
const xL = px({xAxisIndex: 0}, xRangeA[0]);
const xR = px({xAxisIndex: 0}, xRangeA[1]);
const xLB = px({xAxisIndex: 3}, xRangeB[0]);
const dashed = {stroke: '#444', lineWidth: 1, lineDash: [3, 3]};
const slash = {stroke: INK, lineWidth: 2};
const g = [];
[xIn, xOut].forEach(x => g.push({type: 'line', silent: true, z: 1, shape: {x1: x, y1: yTopA, x2: x, y2: yBotA - 1}, style: dashed}));
[xL, xR].forEach(x => {
  g.push({type: 'line', silent: true, z: 10, shape: {x1: x - 8, y1: yBreak1 + 5, x2: x + 9, y2: yBreak1 - 3}, style: slash});
  g.push({type: 'line', silent: true, z: 10, shape: {x1: x - 8, y1: yBreak2 + 5, x2: x + 9, y2: yBreak2 - 3}, style: slash});
});
g.push({type: 'text', silent: true, x: 21, y: (yTopA + yBotA) / 2 + 9, rotation: Math.PI / 2,
  style: {text: 'Current (nA)', fill: INK, font: '20px "Liberation Serif"', align: 'center', verticalAlign: 'middle'}});
g.push({type: 'text', silent: true, x: xLB - 54, y: 278, rotation: Math.PI / 2,
  style: {text: 'Normalized current (arb.units)', fill: INK, font: '20px "Liberation Serif"', align: 'center', verticalAlign: 'middle'}});
g.push({type: 'text', silent: true, x: 11, y: 29, style: {text: 'a', fill: INK, font: 'bold 24px "Liberation Sans"', align: 'left', verticalAlign: 'alphabetic'}});
g.push({type: 'text', silent: true, x: 465, y: 30, style: {text: 'b', fill: INK, font: 'bold 24px "Liberation Sans"', align: 'left', verticalAlign: 'alphabetic'}});
chart.setOption({graphic: g});
</script>
</body></html>
